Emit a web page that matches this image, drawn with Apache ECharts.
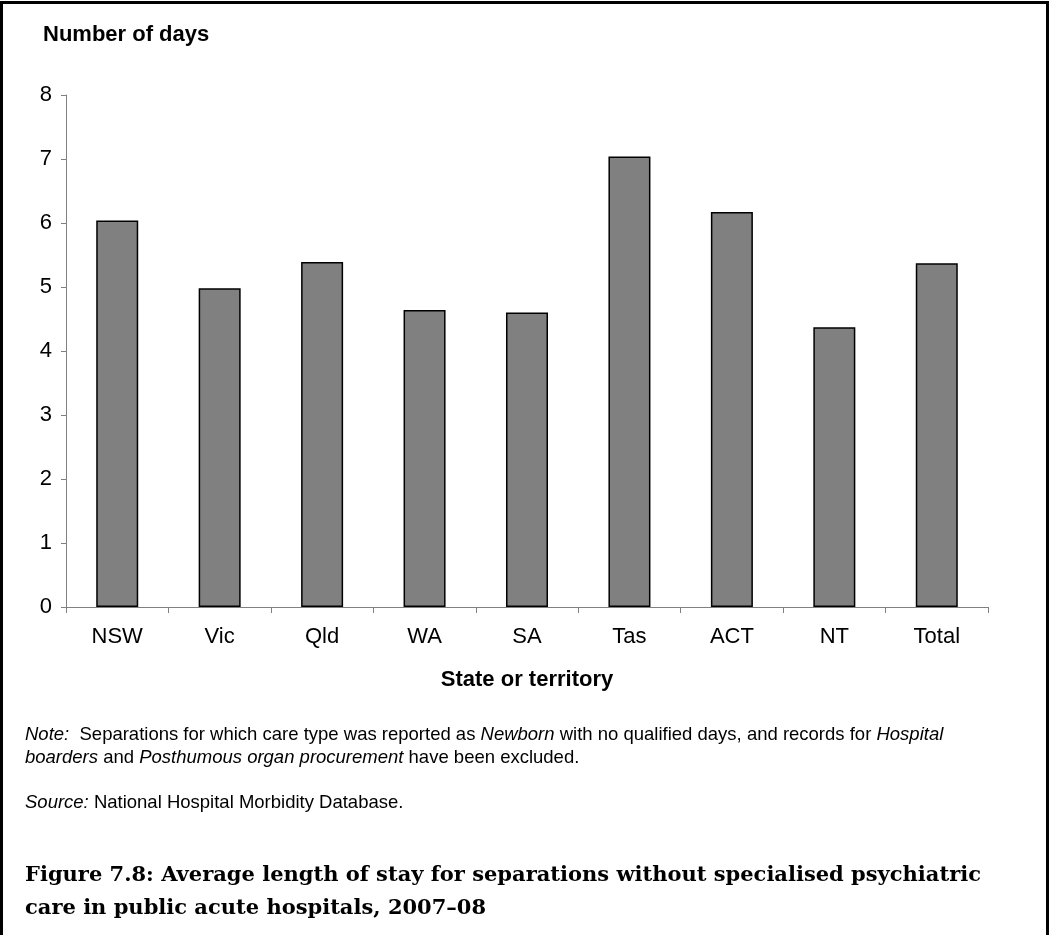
<!DOCTYPE html>
<html>
<head>
<meta charset="utf-8">
<script src="https://cdn.jsdelivr.net/npm/echarts@6/dist/echarts.min.js"></script>
<style>
  html, body { margin: 0; padding: 0; background: #fff; }
  #chart { width: 1050px; height: 935px; }
</style>
</head>
<body>
<div id="chart"></div>
<script>
const categories = ['NSW', 'Vic', 'Qld', 'WA', 'SA', 'Tas', 'ACT', 'NT', 'Total']
const avgDays = [6.04, 4.98, 5.39, 4.64, 4.60, 7.04, 6.17, 4.37, 5.37]
const yTicks = [0, 1, 2, 3, 4, 5, 6, 7, 8]

const chart = echarts.init(document.getElementById('chart'))

const sans = 'Liberation Sans, Arial, sans-serif'
const serif = 'DejaVu Serif, serif'

// shared rich styles for the note lines, so italic and plain runs sit on one baseline
const noteRich = {
  r: { fontSize: 18.5, fontFamily: sans, fill: '#000', lineHeight: 23, verticalAlign: 'bottom' },
  i: { fontSize: 18.5, fontFamily: sans, fontStyle: 'italic', fill: '#000', lineHeight: 23, verticalAlign: 'bottom' }
}

const option = {
  backgroundColor: '#fff',
  animation: false,
  grid: {
    left: 66,
    right: 62,
    top: 95,
    bottom: 328
  },
  xAxis: {
    type: 'category',
    data: categories,
    name: 'State or territory',
    nameLocation: 'middle',
    nameGap: 62,
    nameTextStyle: { color: '#000', fontFamily: sans, fontWeight: 'bold', fontSize: 22 },
    axisLine: { lineStyle: { color: '#808080', width: 1 } },
    axisTick: { show: true, length: 6, lineStyle: { color: '#808080' } },
    axisLabel: { color: '#000', fontFamily: sans, fontSize: 22, margin: 19 }
  },
  yAxis: {
    type: 'value',
    min: yTicks[0],
    max: yTicks[yTicks.length - 1],
    interval: 1,
    splitLine: { show: false },
    axisLine: { show: true, lineStyle: { color: '#808080', width: 1 } },
    axisTick: { show: true, length: 5, lineStyle: { color: '#808080' } },
    axisLabel: { color: '#000', fontFamily: sans, fontSize: 22, margin: 14 }
  },
  series: [{
    type: 'bar',
    data: avgDays,
    barWidth: '41%',
    itemStyle: {
      color: '#808080',
      borderColor: '#000',
      borderWidth: 1.5
    }
  }],
  graphic: [
    {
      type: 'rect',
      shape: { x: 1.5, y: 2.5, width: 1046, height: 1000 },
      style: { fill: 'none', stroke: '#000', lineWidth: 3 },
      silent: true
    },
    {
      type: 'text', left: 43, top: 24,
      style: { text: 'Number of days', fill: '#000', font: 'bold 22px ' + sans }
    },
    {
      type: 'text', left: 25, top: 725,
      style: {
        text: '{i|Note:}{r|  Separations for which care type was reported as }{i|Newborn}{r| with no qualified days, and records for }{i|Hospital}\n{i|boarders}{r| and }{i|Posthumous organ procurement}{r| have been excluded.}',
        rich: noteRich
      }
    },
    {
      type: 'text', left: 25, top: 793,
      style: {
        text: '{i|Source:}{r| National Hospital Morbidity Database.}',
        rich: noteRich
      }
    },
    {
      type: 'text', left: 25, top: 859,
      style: {
        text: 'Figure 7.8: Average length of stay for separations without specialised psychiatric\ncare in public acute hospitals, 2007\u201308',
        fill: '#000',
        font: 'bold 21px ' + serif,
        lineHeight: 33
      }
    }
  ]
}

chart.setOption(option)
</script>
</body>
</html>
